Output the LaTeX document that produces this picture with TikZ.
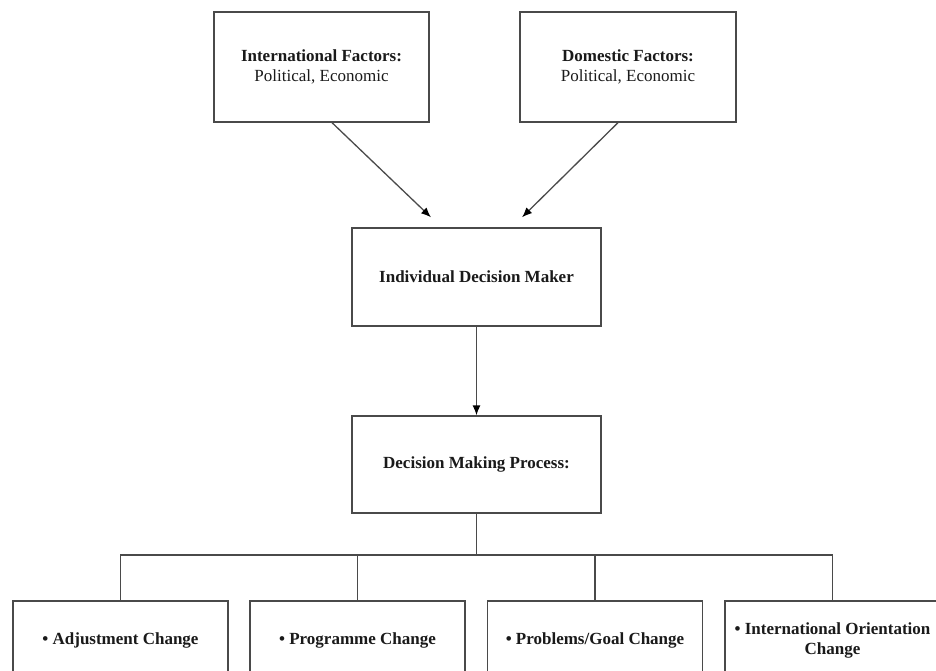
\documentclass[tikz,border=0pt]{standalone}
\usepackage{fontspec}
\setmainfont{Liberation Serif}
\usetikzlibrary{arrows.meta}
\definecolor{linec}{HTML}{4A4A4A}
\definecolor{textc}{HTML}{1A1A1A}
\begin{document}
\begin{tikzpicture}[x=1pt,y=-1pt,
  box/.style={draw=linec,line width=1.3pt,rectangle,inner sep=0pt,anchor=center,
    text=textc,align=center,font=\fontsize{17}{20}\selectfont},
  conn/.style={draw=linec,line width=1.3pt},
  arr/.style={conn,-{Latex[length=10pt,width=8pt,color=black]}}]
\useasboundingbox (0,0) rectangle (936,670);
\clip (0,0) rectangle (936,670);
\fill[white] (0,0) rectangle (936,670);
\node[box,minimum width=215pt,minimum height=110pt] (A) at (321.5,67)
  {\textbf{International Factors:}\\Political, Economic};
\node[box,minimum width=216pt,minimum height=110pt] (B) at (628,67)
  {\textbf{Domestic Factors:}\\Political, Economic};
\node[box,minimum width=249pt,minimum height=98pt] (C) at (476.5,277)
  {\textbf{Individual Decision Maker}};
\node[box,minimum width=249pt,minimum height=97pt] (D) at (476.5,464.5)
  {\textbf{Decision Making Process:}};
\node[box,minimum width=215pt,minimum height=79pt] (b1) at (120.5,640.5)
  {\textbf{• Adjustment Change}};
\node[box,minimum width=215pt,minimum height=79pt] (b2) at (357.5,640.5)
  {\textbf{• Programme Change}};
\node[box,minimum width=215pt,minimum height=79pt] (b3) at (595,640.5)
  {\textbf{• Problems/Goal Change}};
\node[box,minimum width=215pt,minimum height=79pt] (b4) at (832.5,640.5)
  {\textbf{• International Orientation}\\\textbf{Change}};
\coordinate (ta) at ([xshift=-45.5pt,yshift=10pt]C.north);
\coordinate (tb) at ([xshift=45.5pt,yshift=10pt]C.north);
\coordinate (bus) at (476.5,555);
\draw[arr] ([xshift=10.5pt]A.south) -- (ta);
\draw[arr] ([xshift=-10pt]B.south) -- (tb);
\draw[arr] (C.south) -- (D.north);
\draw[conn] (D.south) -- (bus);
\draw[conn] (b1.north) -- (b1.north |- bus) -- (b4.north |- bus) -- (b4.north);
\draw[conn] (b2.north) -- (b2.north |- bus);
\draw[conn] (b3.north) -- (b3.north |- bus);
\end{tikzpicture}
\end{document}
